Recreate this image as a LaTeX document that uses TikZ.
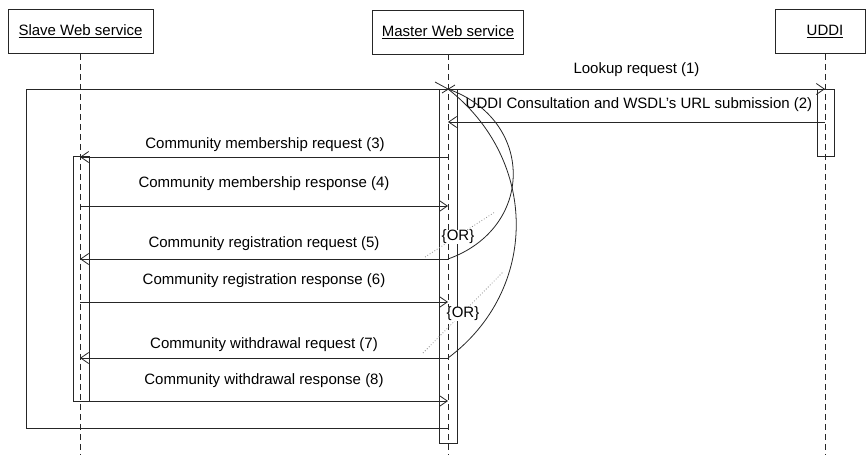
\documentclass[tikz,border=0pt]{standalone}
\usepackage{fontspec}
\setmainfont{Liberation Sans}
\usetikzlibrary{arrows.meta}

\begin{document}
\begin{tikzpicture}[x=1pt,y=-1pt,
  every node/.style={font=\fontsize{15}{18}\selectfont, inner sep=0pt},
  objbox/.style={draw=black!85, line width=0.8pt, fill=white, minimum height=44pt},
  actbox/.style={draw=black!85, line width=0.8pt, fill=white, minimum width=17pt},
  lifeline/.style={draw=black!85, line width=0.8pt, dash pattern=on 6pt off 4pt},
  msg/.style={draw=black!85, line width=0.8pt, -{Straight Barb[length=8pt,width=11pt]}},
  plain/.style={draw=black!85, line width=0.8pt},
  hint/.style={draw=black!45, line width=0.8pt, dotted},
  orlabel/.style={fill=white, inner sep=0.5pt}]

\useasboundingbox (0,0) rectangle (866,455);

% participants
\node[objbox, minimum width=145pt] (slave) at (80.5,31.5) {\underline{Slave Web service}};
\node[objbox, minimum width=151pt] (master) at (448,32) {\underline{Master Web service}};
\node[objbox, minimum width=90pt] (uddi) at (820,31.5) {\hspace*{10pt}\underline{UDDI}};

% activation bars
\node[actbox, minimum width=16pt, minimum height=245pt] (actS) at (81,278.5) {};
\node[actbox, minimum width=18pt, minimum height=354pt] (actM) at (448,266) {};
\node[actbox, minimum width=17pt, minimum height=67pt] (actU) at (825.5,122.5) {};

% lifelines
\coordinate (endS) at (80,455);
\coordinate (endM) at (448,455);
\coordinate (endU) at (825,455);
\draw[lifeline] (slave.south -| endS) -- (endS);
\draw[lifeline] (master.south -| endM) -- (endM);
\draw[lifeline] (uddi.south -| endU) -- (endU);

% message anchor points on the lifelines
\coordinate (m1) at (448,89);   \coordinate (u1) at (825,89);
\coordinate (u2) at (825,122);  \coordinate (m2) at (448,122);
\coordinate (m3) at (448,157);  \coordinate (s3) at (80,157);
\coordinate (s4) at (80,206);   \coordinate (m4) at (448,206);
\coordinate (m5) at (448,259);  \coordinate (s5) at (80,259);
\coordinate (s6) at (80,302);   \coordinate (m6) at (448,302);
\coordinate (m7) at (448,358);  \coordinate (s7) at (80,358);
\coordinate (s8) at (73,401);   \coordinate (m8) at (448,401);
\coordinate (m9) at (448,428);
\coordinate (f1) at (26,89);    \coordinate (f2) at (26,428);

% enclosing loop frame
\draw[plain] (m1) -- (f1) -- (f2) -- (m9);

% messages
\draw[msg] (m1) -- (u1);
\draw[msg] (u2) -- (m2);
\draw[msg] (m3) -- (s3);
\draw[msg] (s4) -- (m4);
\draw[msg] (m5) -- (s5);
\draw[msg] (s6) -- (m6);
\draw[msg] (m7) -- (s7);
\draw[msg] (s8) -- (m8);

% message labels
\node (l1) at (636.5,70) {Lookup request (1)};
\node (l2) at (639,105) {UDDI Consultation and WSDL's URL submission (2)};
\node (l3) at (265,145) {Community membership request (3)};
\node (l4) at (264,184) {Community membership response (4)};
\node (l5) at (264,244) {Community registration request (5)};
\node (l6) at (264,281) {Community registration response (6)};
\node (l7) at (264,345) {Community withdrawal request (7)};
\node (l8) at (264,381) {Community withdrawal response (8)};

% alternative constraint curves
\coordinate (x1) at (435,82);  \coordinate (x2) at (442,93);  \coordinate (x3) at (455,85);
\draw[plain] (x1) -- (m1);
\draw[plain] (x2) -- (x3);
\draw[plain] (m1) .. controls (535,120) and (535,228) .. (m5);
\draw[plain] (m1) .. controls (539,160) and (539,290) .. (m7);

\coordinate (d1a) at (425,257); \coordinate (d1b) at (495,212);
\coordinate (d2a) at (423,353); \coordinate (d2b) at (503,272);
\draw[hint] (d1a) -- (d1b);
\draw[hint] (d2a) -- (d2b);

\node[orlabel] (or1) at (458,237) {\{OR\}};
\node[orlabel] (or2) at (463,314) {\{OR\}};

\end{tikzpicture}
\end{document}
